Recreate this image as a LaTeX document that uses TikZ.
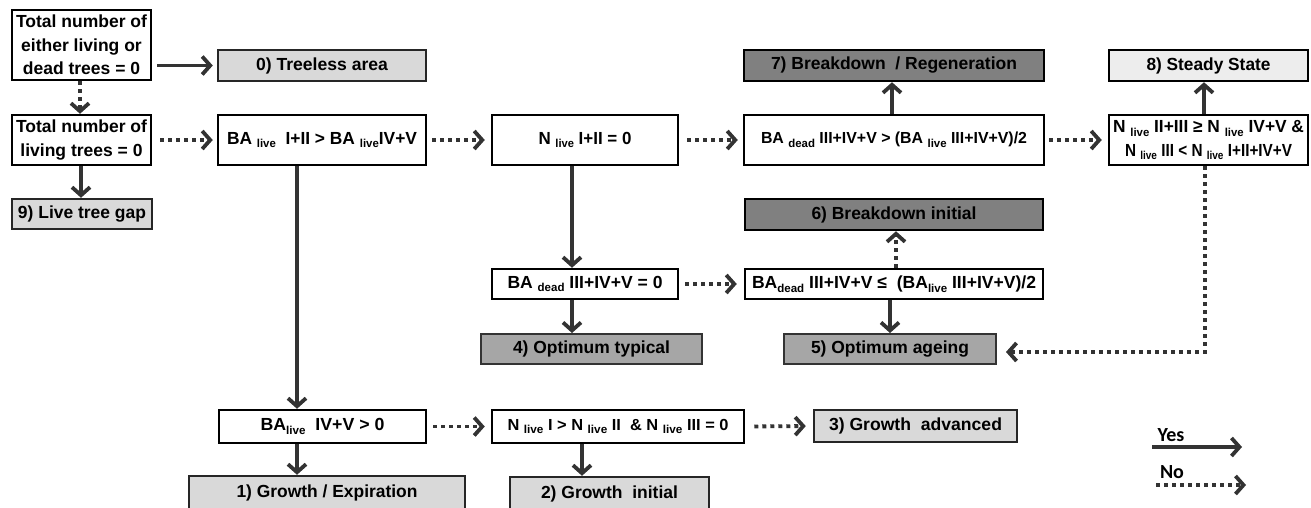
\documentclass[tikz,border=0pt]{standalone}
\usepackage{fontspec}
\setmainfont{Liberation Sans}
\newfontfamily\legfont{Carlito}
\usetikzlibrary{arrows.meta}
\newsavebox\fitbox
\newlength\fitlen
\newcommand\fitw[2]{\sbox\fitbox{#2}\setlength\fitlen{\wd\fitbox}\pgfmathsetmacro\fitfac{#1/\fitlen}\scalebox{\fitfac}[1]{\usebox\fitbox}}
\newcommand\sbs[1]{\raisebox{-3.5pt}{\fontsize{11.5}{11.5}\selectfont #1}}
\newcommand\fs[1]{\fontsize{#1}{23.5}\selectfont}
\definecolor{lg}{HTML}{D9D9D9}
\definecolor{vlg}{HTML}{EDEDED}
\definecolor{mg}{HTML}{A6A6A6}
\definecolor{dg}{HTML}{808080}
\definecolor{ln}{HTML}{333333}
\tikzset{
  box/.style={draw=black, line width=2.5pt, fill=white, inner sep=0pt, align=center},
  lbox/.style={box, fill=lg, draw=black!85},
  vbox/.style={box, fill=vlg},
  mbox/.style={box, fill=mg, draw=black!80, line width=2pt},
  dbox/.style={box, fill=dg},
  yes/.style={draw=ln, line width=3.8pt, -{Straight Barb[length=8pt,width=18pt]}},
  no/.style={yes, dash pattern=on 4pt off 4pt},
  leg/.style={font=\legfont\bfseries\fontsize{20}{20}\selectfont, inner sep=0pt}
}
\begin{document}
\begin{tikzpicture}[x=1pt, y=-1pt, font=\bfseries\fontsize{17.5}{23.5}\selectfont]
\useasboundingbox (0,0) rectangle (1311,507);
% nodes
\node[box, minimum width=139, minimum height=70] (A) at (81.5,45) {Total number of\\either living or\\dead trees = 0};
\node[lbox, minimum width=208, minimum height=31] (T0) at (322,65.5) {\fitw{132}{0) Treeless area}};
\node[box, minimum width=139, minimum height=50] (B) at (81.5,140) {Total number of\\living trees = 0};
\node[lbox, minimum width=140, minimum height=30] (T9) at (82,214) {\fitw{128}{9) Live tree gap}};
\node[box, minimum width=208, minimum height=50] (C) at (322,140) {\fitw{190}{BA \sbs{live}\ \ I+II > BA \sbs{live}IV+V}};
\node[box, minimum width=186, minimum height=50] (D) at (585,140) {\fitw{93}{N \sbs{live} I+II = 0}};
\node[box, minimum width=300, minimum height=50] (E) at (894,140) {\fs{16}\fitw{266}{BA \sbs{dead} III+IV+V > (BA \sbs{live} III+IV+V)/2}};
\node[dbox, minimum width=300, minimum height=31] (T7) at (894,65.5) {\fitw{246}{7) Breakdown\ \ / Regeneration}};
\node[box, minimum width=199, minimum height=50] (F) at (1208.5,140) {\fitw{191}{N \sbs{live} II+III ≥ N \sbs{live} IV+V \&}\\\fitw{167}{N \sbs{live} III < N \sbs{live} I+II+IV+V}};
\node[vbox, minimum width=199, minimum height=31] (T8) at (1208.5,65.5) {\fitw{124}{8) Steady State}};
\node[dbox, minimum width=298, minimum height=31] (T6) at (894,214.5) {\fitw{165}{6) Breakdown initial}};
\node[box, minimum width=186, minimum height=30] (G) at (585,284) {\fitw{155}{BA \sbs{dead} III+IV+V = 0}};
\node[box, minimum width=298, minimum height=30] (H) at (894,284) {\fitw{284}{BA\sbs{dead} III+IV+V ≤\ \ (BA\sbs{live} III+IV+V)/2}};
\node[mbox, minimum width=221, minimum height=30] (T4) at (591.5,349) {\fitw{157}{4) Optimum typical}};
\node[mbox, minimum width=212, minimum height=30] (T5) at (890,349) {\fitw{158}{5) Optimum ageing}};
\node[box, minimum width=207, minimum height=33] (I) at (322.5,426.5) {\fitw{124}{BA\sbs{live}\ \ IV+V > 0}};
\node[box, minimum width=252, minimum height=33] (J) at (618,426.5) {\fs{16}\fitw{221}{N \sbs{live} I > N \sbs{live} II\ \ \& N \sbs{live} III = 0}};
\node[lbox, minimum width=203, minimum height=32] (T3) at (915.5,426) {\fitw{173}{3) Growth\ \ advanced}};
\node[lbox, minimum width=276, minimum height=34] (T1) at (327,493) {\fitw{181}{1) Growth / Expiration}};
\node[lbox, minimum width=199, minimum height=34] (T2) at (609.5,494) {\fitw{137}{2) Growth\ \ initial}};
% connector x positions
\coordinate (ax) at (80,0);
\coordinate (bx) at (81,0);
\coordinate (cx) at (297,0);
\coordinate (dx) at (572,0);
\coordinate (jx) at (582,0);
\coordinate (ex) at (892,0);
\coordinate (h6) at (896,0);
\coordinate (h5) at (890,0);
\coordinate (f8) at (1204,0);
\coordinate (f5) at (1205,0);
\coordinate (fy) at (0,352);
% connectors
\draw[yes, shorten <=5pt, shorten >=4pt] (A.east |- T0.west) -- (T0.west);
\draw[no] (A.south -| ax) -- (B.north -| ax);
\draw[yes] (B.south -| bx) -- (T9.north -| bx);
\draw[no, shorten <=8pt, shorten >=4pt] (B.east) -- (C.west);
\draw[no, shorten <=5pt, shorten >=6pt] (C.east) -- (D.west);
\draw[no, shorten <=8pt, shorten >=5pt] (D.east) -- (E.west);
\draw[no, shorten <=4pt, shorten >=6pt] (E.east) -- (F.west);
\draw[yes] (E.north -| ex) -- (T7.south -| ex);
\draw[yes] (F.north -| f8) -- (T8.south -| f8);
\draw[yes] (C.south -| cx) -- (I.north -| cx);
\draw[yes] (D.south -| dx) -- (G.north -| dx);
\draw[no, shorten <=6pt, shorten >=7pt] (G.east) -- (H.west);
\draw[yes] (G.south -| dx) -- (T4.north -| dx);
\draw[no] (H.north -| h6) -- (T6.south -| h6);
\draw[yes] (H.south -| h5) -- (T5.north -| h5);
\draw[no, shorten >=9pt] (F.south -| f5) -- (f5 |- fy) -- (T5.east |- fy);
\draw[yes] (I.south -| cx) -- (T1.north -| cx);
\draw[no, shorten <=6pt, shorten >=6pt] (I.east) -- (J.west);
\draw[no, shorten <=9pt, shorten >=7pt] (J.east) -- (T3.west);
\draw[yes] (J.south -| jx) -- (T2.north -| jx);
% legend
\node[leg] (ly) at (1171,435) {Yes};
\node[leg] (ln) at (1172,472) {No};
\coordinate (y1) at (1152,447);
\coordinate (y2) at (1242,447);
\coordinate (n1) at (1156,485);
\coordinate (n2) at (1246,485);
\draw[yes] (y1) -- (y2);
\draw[no] (n1) -- (n2);
\end{tikzpicture}
\end{document}
